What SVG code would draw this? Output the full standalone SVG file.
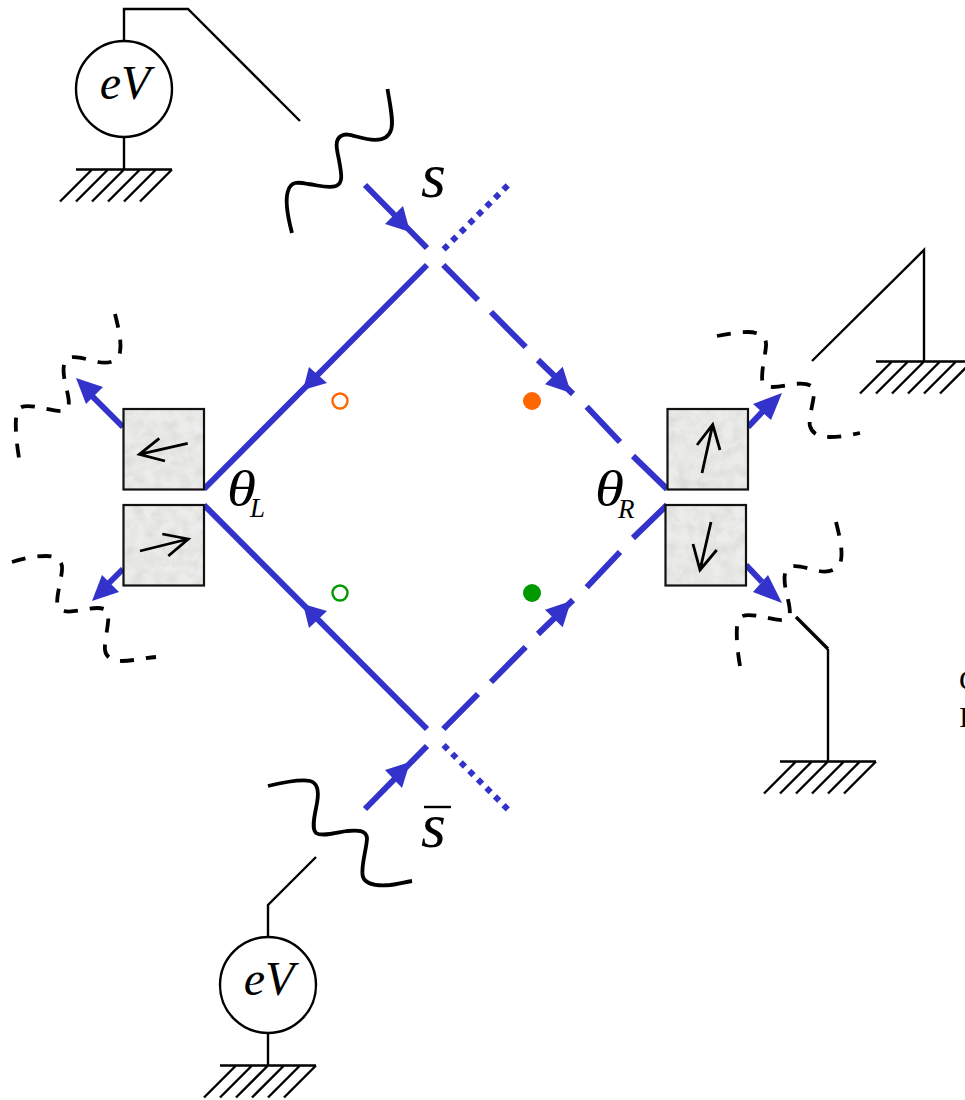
<svg xmlns="http://www.w3.org/2000/svg" width="965" height="1100" viewBox="0 0 965 1100">
<style>
.w{fill:none;stroke:#000;stroke-width:2.4;stroke-linejoin:miter}
.h{fill:none;stroke:#000;stroke-width:2.4}
.b{fill:none;stroke:#3333cc;stroke-width:6}
.d{stroke-dasharray:6 6.1}
.a{fill:#3333cc;stroke:none}
.wv{fill:none;stroke:#000;stroke-width:3.8;stroke-linecap:butt}
.dw{stroke-dasharray:14 12}
.tex{fill:#ececea;stroke:none}
.box{fill:none;stroke:#111;stroke-width:2.200}
.sp{fill:none;stroke:#000;stroke-width:2.800}
.t{font-family:"Liberation Serif",serif;font-style:italic;fill:#000}
.c{font-family:"Liberation Serif",serif;font-size:30px;fill:#000}
</style>
<defs>
<path id="gnd" class="h" d="M-48,0H48M-32,0L-64,32M-16,0L-48,32M0,0L-32,32M16,0L-16,32M32,0L0,32M48,0L16,32"/>
<filter id="grain" x="0" y="0" width="100%" height="100%">
<feTurbulence type="fractalNoise" baseFrequency="0.09" numOctaves="3" seed="4" result="n"/>
<feColorMatrix in="n" type="matrix" values="0 0 0 0 0.72  0 0 0 0 0.72  0 0 0 0 0.7  1.4 1.4 0 0 -1.05" result="g"/>
<feComposite in="g" in2="SourceAlpha" operator="in" result="gc"/>
<feMerge><feMergeNode in="SourceGraphic"/><feMergeNode in="gc"/></feMerge>
</filter>
</defs>
<g id="connectors">
<path class="b" d="M365,185L427,248"/>
<path class="a" d="M403,206L385,224L410,232Z"/>
<path class="b d" d="M443.600,249.400L508,185"/>
<path class="b" d="M427,265L204,489"/>
<path class="a" d="M309,367L327,383L303,390Z"/>
<path class="b" d="M443.300,265L478,300M491,312L525.700,347M538,360L573,394M586.700,406.700L620,442M633,456L667,489"/>
<path class="a" d="M562.700,366.700L545,384.300L571,393Z"/>
<path class="b" d="M204,505L427,729"/>
<path class="a" d="M327,611L309,628L303,604Z"/>
<path class="b" d="M443.300,729L478,694M491,682L525.700,647M538,634L573,600M586.700,587.300L620,552M633,538L667,505"/>
<path class="a" d="M562.700,627.300L545,609.700L571,601Z"/>
<path class="b" d="M365,809L427,746"/>
<path class="a" d="M410,762L385,770L402,788Z"/>
<path class="b d" d="M443.600,745.200L508,809.500"/>
<path class="b" d="M123,427L92,396"/>
<path class="a" d="M76,378L103,387L86,404Z"/>
<path class="b" d="M123,569L108,584"/>
<path class="a" d="M92,601L102,575L119,592Z"/>
<path class="b" d="M748,427L764,410"/>
<path class="a" d="M782,393L753,404L771,420Z"/>
<path class="b" d="M746,565L762,582"/>
<path class="a" d="M782,603L768,575L753,592Z"/>
<path class="w" d="M124,41V9H188L300,121"/>
<path class="w" d="M124,137V169"/>
<path class="w" d="M268,937V905L316,857"/>
<path class="w" d="M268,1033V1065"/>
<path class="w" d="M924,361V250L812,361"/>
<path class="w" d="M828,761V649"/>
<path fill="none" stroke="#000" stroke-width="3.400" d="M828,649L796,617"/>
<use href="#gnd" x="124" y="169.500"/>
<use href="#gnd" x="268" y="1065.500"/>
<use href="#gnd" x="924" y="361.500"/>
<use href="#gnd" x="828" y="761.500"/>
</g>
<g id="waves">
<path class="wv" d="M387.500,89C390,105 394,122 391,130C388,140 378,141 367,139C355,137 347,132 341,136C334,140 337,150 339,160C341,172 344,183 336,186C328,189 318,185 308,184C298,182 291,181 288,191C285,200 288,218 292,233"/>
<path class="wv" d="M268,786C285,782 300,779 310,781C318,783 319,792 317,803C315,814 311,828 316,833C322,837 335,833 347,831C358,830 366,830 367,838C367,848 360,868 363,877C366,885 378,886 390,885C398,884 405,882 412,881"/>
<path class="wv dw" d="M115,314C118,326 122,342 120,352C118,362 108,364 98,362C88,360 76,355 69,358C62,361 63,372 65,382C67,392 72,406 66,410C60,413 50,409 42,408C32,406 22,404 18,410C14,416 16,440 19,458"/>
<path class="wv dw" d="M12,562C22,559 34,556 46,556C56,556 63,560 62,570C61,582 55,600 58,607C61,613 72,612 82,610C92,608 104,606 108,612C110,620 104,642 105,650C106,658 113,661 122,661C132,661 144,658 156,657"/>
<path class="wv dw" d="M717,336C727,334 738,332 748,332C758,332 767,336 766,346C765,358 760,376 763,383C766,389 778,387 788,385C798,383 812,382 814,390C815,398 808,418 810,426C812,434 820,437 830,437C840,437 850,435 860,433"/>
<path class="wv dw" d="M836,522C839,534 843,550 841,560C839,570 829,573 819,571C809,569 797,564 790,567C783,570 784,581 786,591C788,601 793,615 787,619C781,622 771,618 763,617C753,615 743,613 739,619C735,625 737,649 740,666"/>
</g>
<g id="source-top">
<circle cx="124" cy="89" r="48" fill="#fff" stroke="#000" stroke-width="2.400"/>
<text class="t" x="125" y="99" font-size="48" text-anchor="middle">eV</text>
</g>
<g id="source-bottom">
<circle cx="268" cy="985" r="48" fill="#fff" stroke="#000" stroke-width="2.400"/>
<text class="t" x="269" y="995" font-size="48" text-anchor="middle">eV</text>
</g>
<g id="filter-left-up">
<rect class="tex" x="123.500" y="409" width="80.500" height="80.500" filter="url(#grain)"/>
<rect class="box" x="123.500" y="409" width="80.500" height="80.500"/>
<path class="sp" d="M187.700,443.300L139.300,454.300M159.300,438.300L139.300,454.300L165,461"/>
</g>
<g id="filter-left-down">
<rect class="tex" x="123.500" y="505" width="80.500" height="80.500" filter="url(#grain)"/>
<rect class="box" x="123.500" y="505" width="80.500" height="80.500"/>
<path class="sp" d="M140,551L188.300,539M162.300,534L188.300,539L168.300,556"/>
</g>
<g id="filter-right-up">
<rect class="tex" x="667.500" y="409" width="80.500" height="80.500" filter="url(#grain)"/>
<rect class="box" x="667.500" y="409" width="80.500" height="80.500"/>
<path class="sp" d="M702,473L712.700,424.600M697,445L712.700,424.600L720,450"/>
</g>
<g id="filter-right-down">
<rect class="tex" x="665.500" y="505" width="80.500" height="80.500" filter="url(#grain)"/>
<rect class="box" x="665.500" y="505" width="80.500" height="80.500"/>
<path class="sp" d="M711,522L700,570M693,544L700,570L716.700,550"/>
</g>
<g id="dots">
<circle cx="340" cy="401" r="7.500" fill="#fff" stroke="#ff6600" stroke-width="2.400"/>
<circle cx="532" cy="401" r="9" fill="#ff6600"/>
<circle cx="340" cy="593" r="7.500" fill="#fff" stroke="#009900" stroke-width="2.400"/>
<circle cx="532" cy="593" r="9" fill="#009900"/>
</g>
<g id="labels">
<text class="t" x="421" y="197" font-size="64">s</text>
<text class="t" x="421" y="847" font-size="64">s</text>
<path d="M424,807H451" stroke="#000" stroke-width="2.400"/>
<text class="t" x="227" y="506" font-size="50" textLength="29" lengthAdjust="spacingAndGlyphs">θ</text>
<text class="t" x="250" y="517" font-size="27">L</text>
<text class="t" x="595" y="506" font-size="50" textLength="29" lengthAdjust="spacingAndGlyphs">θ</text>
<text class="t" x="618" y="518" font-size="27">R</text>
<text class="c" x="959" y="690">C</text>
<text class="c" x="959" y="727">I</text>
</g>
</svg>
